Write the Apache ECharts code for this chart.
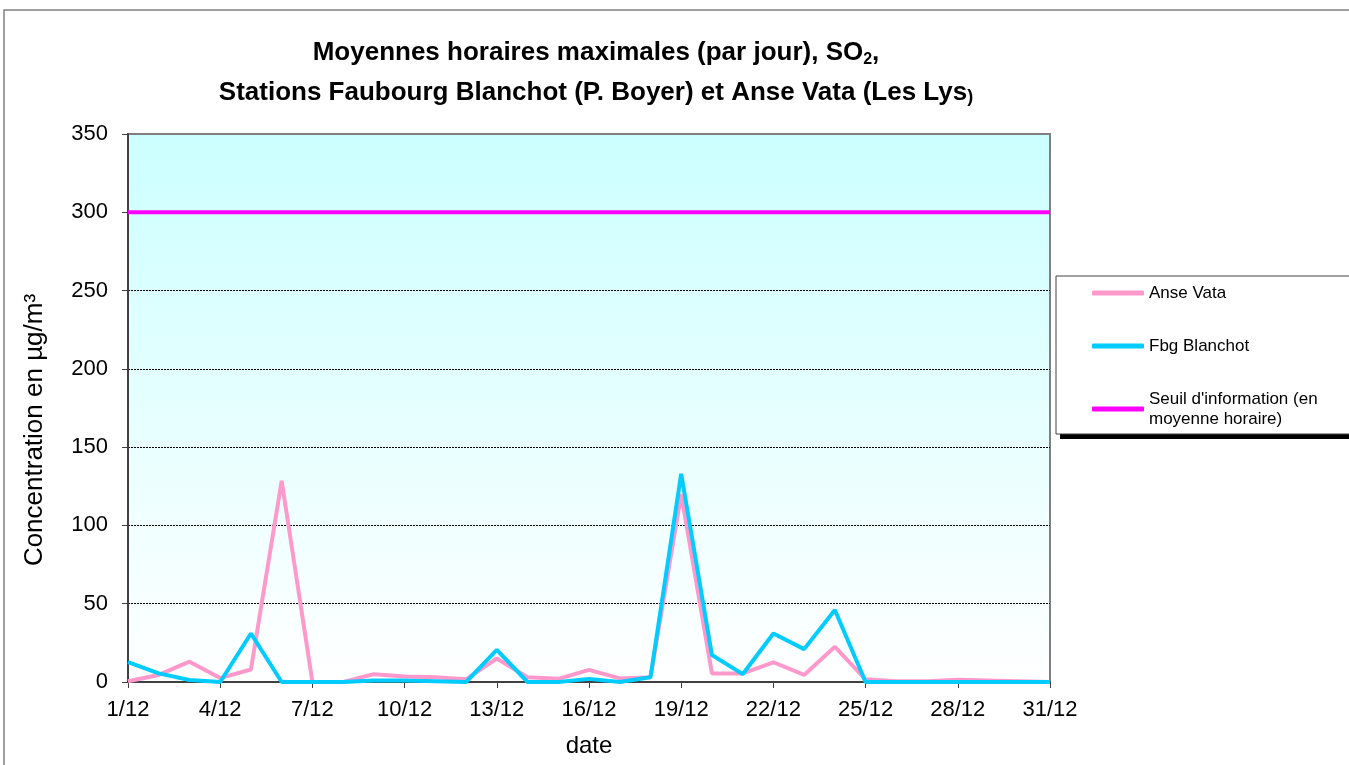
<!DOCTYPE html>
<html lang="fr">
<head>
    <meta charset="UTF-8">
    <title>SO2 - Moyennes horaires maximales</title>
    <script type="text/javascript" src="https://cdn.jsdelivr.net/npm/echarts@6/dist/echarts.min.js"></script>
    <style>
        html, body { margin: 0; padding: 0; background: #fff; }
        #main { width: 1349px; height: 765px; }
    </style>
</head>
<body>
<div id="main"></div>
<script type="text/javascript">

    // jours de décembre
    var jours = ['1/12','2/12','3/12','4/12','5/12','6/12','7/12','8/12','9/12','10/12',
                 '11/12','12/12','13/12','14/12','15/12','16/12','17/12','18/12','19/12','20/12',
                 '21/12','22/12','23/12','24/12','25/12','26/12','27/12','28/12','29/12','30/12','31/12'];

    // Anse Vata (Les Lys), µg/m3
    var anseVata = [0.5, 4.5, 13, 2.5, 8, 128.5, 0, 0, 5, 3.5,
                    3, 1.7, 15, 3, 2, 7.7, 2.3, 3, 120, 5.5,
                    5.5, 12.6, 4.5, 22.5, 1.7, 0.5, 0.5, 1.5, 1, 0.5, 0];

    // Faubourg Blanchot (P. Boyer), µg/m3
    var fbgBlanchot = [12.7, 5.5, 1.3, 0, 31, 0, 0, 0, 1, 1,
                       0.5, 0, 20.5, 0, 0, 2, 0, 3, 133, 17.2,
                       5, 31, 21, 46, 0, 0, 0, 0, 0, 0, 0];

    // seuil d'information
    var seuil = [300, 300, 300, 300, 300, 300, 300, 300, 300, 300,
                 300, 300, 300, 300, 300, 300, 300, 300, 300, 300,
                 300, 300, 300, 300, 300, 300, 300, 300, 300, 300, 300];

    var yTicks = { min: 0, max: 350, interval: 50 };

    var myChart = echarts.init(document.getElementById('main'));

    myChart.setOption({
        animation: false,
        textStyle: { fontFamily: 'Liberation Sans, Arial, sans-serif' },
        title: {
            text: '{t|Moyennes horaires maximales (par jour), SO}{sub|2}{t|,}\n{t|Stations Faubourg Blanchot (P. Boyer) et Anse Vata (Les Lys}{p|)}',
            left: 591,
            top: 28,
            textAlign: 'center',
            textStyle: {
                rich: {
                    t: { fontSize: 26, fontWeight: 'bold', color: '#000', lineHeight: 40, fontFamily: 'Liberation Sans' },
                    sub: { fontSize: 16, fontWeight: 'bold', color: '#000', lineHeight: 40, padding: [14, 0, 0, 0], fontFamily: 'Liberation Sans' },
                    p: { fontSize: 18, fontWeight: 'bold', color: '#000', lineHeight: 40, padding: [8, 0, 0, 0], fontFamily: 'Liberation Sans' }
                }
            }
        },
        graphic: [{
            // cadre du graphique
            type: 'rect',
            shape: { x: 4, y: 10, width: 1400, height: 800 },
            style: { fill: 'none', stroke: '#808080', lineWidth: 1.5 },
            silent: true,
            z: -10
        }, {
            // ombre de la légende
            type: 'rect',
            shape: { x: 1060, y: 281, width: 400, height: 158 },
            style: { fill: '#000' },
            silent: true,
            z: 1
        }],
        legend: {
            orient: 'vertical',
            left: 1056,
            top: 276,
            z: 5,
            padding: [7, 300, 5, 36],
            itemGap: 33,
            itemWidth: 52,
            itemHeight: 5,
            icon: 'roundRect',
            backgroundColor: '#fff',
            borderColor: '#404040',
            borderWidth: 1,
            textStyle: { fontSize: 17, color: '#000', lineHeight: 20 },
            data: ['Anse Vata', 'Fbg Blanchot', "Seuil d'information (en\nmoyenne horaire)"]
        },
        grid: {
            left: 128,
            top: 134,
            right: 299,
            bottom: 83,
            show: true,
            borderColor: '#808080',
            borderWidth: 2,
            backgroundColor: new echarts.graphic.LinearGradient(0, 0, 0, 1, [
                { offset: 0, color: '#CCFFFF' },
                { offset: 1, color: '#FFFFFF' }
            ])
        },
        xAxis: {
            type: 'category',
            data: jours,
            boundaryGap: false,
            name: 'date',
            nameLocation: 'middle',
            nameGap: 52,
            nameTextStyle: { fontSize: 24, color: '#000' },
            axisLine: { lineStyle: { color: '#404040', width: 2 } },
            axisTick: { show: true, interval: 2, length: 6, lineStyle: { color: '#404040' } },
            axisLabel: { interval: 2, fontSize: 22, color: '#000', margin: 17 },
            splitLine: { show: false }
        },
        yAxis: {
            type: 'value',
            min: yTicks.min,
            max: yTicks.max,
            interval: yTicks.interval,
            name: 'Concentration en µg/m³',
            nameLocation: 'middle',
            nameGap: 80,
            nameTextStyle: { fontSize: 26, color: '#000', padding: [0, 44, 0, 0] },
            axisLine: { show: true, lineStyle: { color: '#404040', width: 2 } },
            axisTick: { show: true, length: 6, lineStyle: { color: '#404040' } },
            axisLabel: { fontSize: 22, color: '#000', margin: 20 },
            splitLine: {
                show: true,
                showMinLine: false,
                showMaxLine: false,
                lineStyle: { color: '#000', type: [2, 1], width: 1 }
            }
        },
        series: [{
            name: 'Anse Vata',
            type: 'line',
            data: anseVata,
            symbol: 'none',
            color: '#FF99CC',
            lineStyle: { color: '#FF99CC', width: 4 }
        }, {
            name: 'Fbg Blanchot',
            type: 'line',
            data: fbgBlanchot,
            symbol: 'none',
            color: '#00CCFF',
            lineStyle: { color: '#00CCFF', width: 4 }
        }, {
            name: "Seuil d'information (en\nmoyenne horaire)",
            type: 'line',
            data: seuil,
            symbol: 'none',
            color: '#FF00FF',
            lineStyle: { color: '#FF00FF', width: 4 }
        }]
    });

</script>
</body>
</html>
